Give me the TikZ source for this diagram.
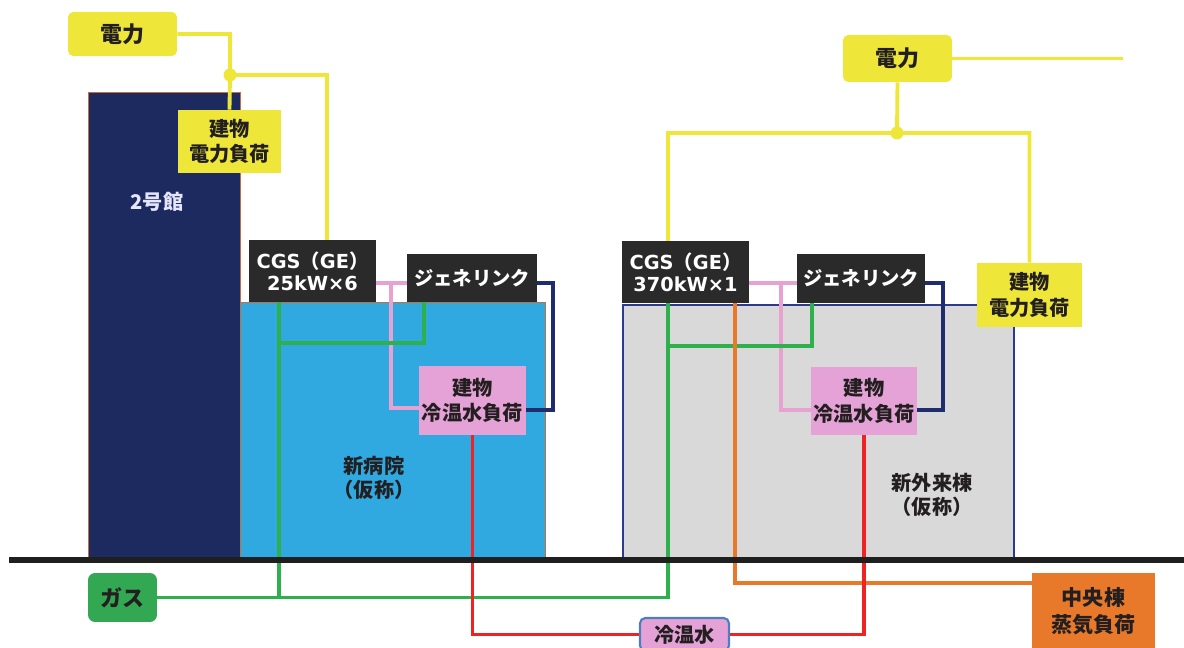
\documentclass[tikz,border=0pt]{standalone}
\usepackage{fontspec}
\setmainfont{Noto Sans CJK JP}
\newfontfamily\latinsans{DejaVu Sans}
\usetikzlibrary{positioning}

\definecolor{elecY}{HTML}{EEE73A}
\definecolor{bldNavy}{HTML}{1C2A60}
\definecolor{bldBlue}{HTML}{30A8E0}
\definecolor{bldGray}{HTML}{D9D9D9}
\definecolor{edgeBrown}{HTML}{C0703A}
\definecolor{edgeNavy}{HTML}{2E3A8C}
\definecolor{boxBlk}{HTML}{2A2A2A}
\definecolor{loadPink}{HTML}{E5A2D6}
\definecolor{pipePink}{HTML}{E8A2D2}
\definecolor{pipeGreen}{HTML}{2EB04C}
\definecolor{gasGreen}{HTML}{32A852}
\definecolor{steamOr}{HTML}{E8792A}
\definecolor{pipeRed}{HTML}{EE2424}
\definecolor{lineNavy}{HTML}{1F2C6E}
\definecolor{wBlue}{HTML}{4A7FC0}
\definecolor{txtDark}{HTML}{231F20}

\tikzset{
  lbl/.style={rectangle, inner sep=0pt, align=center, text=txtDark,
    font=\bfseries\fontsize{11.5}{14.5}\selectfont},
  ybox/.style={lbl, fill=elecY, rounded corners=3pt},
  kbox/.style={lbl, fill=boxBlk, text=white, font=\bfseries\fontsize{11}{12.5}\selectfont},
  pbox/.style={lbl, fill=loadPink},
  bldtxt/.style={lbl, font=\bfseries\fontsize{11.5}{13.5}\selectfont},
  elec/.style={elecY, line width=2.2pt},
  gasln/.style={pipeGreen, line width=2.2pt},
  hotc/.style={pipePink, line width=1.9pt},
  coldr/.style={pipeRed, line width=2.2pt},
  steam/.style={steamOr, line width=2.2pt},
  ret/.style={lineNavy, line width=2.2pt},
}

\begin{document}
\begin{tikzpicture}[x=0.02cm, y=-0.02cm]
    \clip (0,0) rectangle (1184,648);

    % buildings
    \filldraw[fill=bldNavy, draw=edgeBrown, line width=0.4pt] (88,92) rectangle (240,560);
    \filldraw[fill=bldBlue, draw=edgeBrown, line width=0.4pt] (240,302) rectangle (545,560);
    \filldraw[fill=bldGray, draw=edgeNavy, line width=1.2pt] (623,305) rectangle (1014,560);
    \node (b2) [bldtxt, text=white!90!blue] at (157,202) {2号館};
    \node (bnew) [bldtxt] at (374,478) {新病院\\（仮称）};
    \node (bout) [bldtxt] at (932,495) {新外来棟\\（仮称）};

    % boxes
    \node (pwrL) [ybox, minimum width=2.18cm, minimum height=0.88cm, font=\bfseries\fontsize{12.5}{14}\selectfont] at (122.5,34) {電力};
    \node (loadL) [ybox, rounded corners=0pt, minimum width=2.06cm, minimum height=1.26cm] at (229.5,141.5) {建物\\電力負荷};
    \node (cgsL) [kbox, minimum width=2.54cm, minimum height=1.24cm] at (312.5,271) {{\latinsans CGS}（{\latinsans GE}）\\{\latinsans 25kW×6}};
    \node (glL) [kbox, minimum width=2.6cm, minimum height=0.96cm] at (472,278) {ジェネリンク};
    \node (ldL) [pbox, minimum width=2.14cm, minimum height=1.38cm] at (472.5,400.5) {建物\\冷温水負荷};

    \node (pwrR) [ybox, minimum width=2.18cm, minimum height=0.94cm, font=\bfseries\fontsize{12.5}{14}\selectfont] at (897.5,58.5) {電力};
    \node (loadR) [ybox, rounded corners=0pt, minimum width=2.1cm, minimum height=1.28cm] at (1029.5,295) {建物\\電力負荷};
    \node (cgsR) [kbox, minimum width=2.54cm, minimum height=1.24cm] at (685.5,272) {{\latinsans CGS}（{\latinsans GE}）\\{\latinsans 370kW×1}};
    \node (glR) [kbox, minimum width=2.56cm, minimum height=0.98cm] at (861,278.5) {ジェネリンク};
    \node (ldR) [pbox, minimum width=2.12cm, minimum height=1.36cm] at (864,401) {建物\\冷温水負荷};

    \node (gas) [lbl, fill=gasGreen, rounded corners=4pt, minimum width=1.38cm, minimum height=0.98cm, font=\bfseries\fontsize{12.5}{14}\selectfont] at (122.5,597.5) {ガス};
    \node (rw) [lbl, fill=loadPink, draw=wBlue, line width=1.2pt, rounded corners=3pt, minimum width=1.78cm, minimum height=0.66cm] at (684.5,634.5) {冷温水};
    \node (chuo) [lbl, fill=steamOr, minimum width=2.46cm, minimum height=1.54cm, font=\bfseries\fontsize{12}{15.5}\selectfont] at (1093.5,611.5) {中央棟\\蒸気負荷};

    % junctions and bends
    \coordinate (jL) at (230,75);
    \coordinate (pL) at (327,75);
    \coordinate (jR) at (897,133);
    \coordinate (pR) at (668,133);
    \coordinate (gridR) at (1123,58.5);
    \coordinate (hL) at (391,283);
    \coordinate (hR) at (781,283);
    \coordinate (gL) at (279,343);
    \coordinate (gL2) at (424,343);
    \coordinate (gR) at (668,346);
    \coordinate (gR2) at (812,346);
    \coordinate (oR) at (735,583);

    % electricity
    \draw[elec] (pwrL.east) -| (jL) -- (loadL.north);
    \draw[elec] (jL) -- (pL) -- (pL |- cgsL.north);
    \draw[elec] (pwrR.east) -- (gridR);
    \draw[elec] (pwrR.south) -- (jR) -| (loadR.north);
    \draw[elec] (jR) -- (pR) -- (pR |- cgsR.north);
    \fill[elecY] (jL) circle (0.13cm);
    \fill[elecY] (jR) circle (0.13cm);

    % exhaust heat
    \draw[hotc] (cgsL.east |- hL) -- (glL.west |- hL);
    \draw[hotc] (hL) |- ([yshift=-0.15cm]ldL.west);
    \draw[hotc] (cgsR.east |- hR) -- (glR.west |- hR);
    \draw[hotc] (hR) |- ([yshift=-0.18cm]ldR.west);
    \draw[ret] (glL.east |- hL) -- ++(16,0) |- ([yshift=-0.19cm]ldL.east);
    \draw[ret] (glR.east |- hR) -- ++(18,0) |- ([yshift=-0.18cm]ldR.east);

    % gas
    \draw[gasln] (cgsL.south -| gL) -- (gL |- gas.east);
    \draw[gasln] (gL) -- (gL2) -- (gL2 |- glL.south);
    \draw[gasln] (gas.east) -| (cgsR.south -| gR);
    \draw[gasln] (gR) -- (gR2) -- (gR2 |- glR.south);

    % steam and chilled water
    \draw[steam] (oR |- cgsR.south) -- (oR) -- (oR -| chuo.west);
    \draw[coldr] (ldL.south) |- (rw.west);
    \draw[coldr] (rw.east) -| (ldR.south);

    % ground
    \draw[black!88, line width=2.9pt] (9,560) -- (1184,560);
\end{tikzpicture}
\end{document}
